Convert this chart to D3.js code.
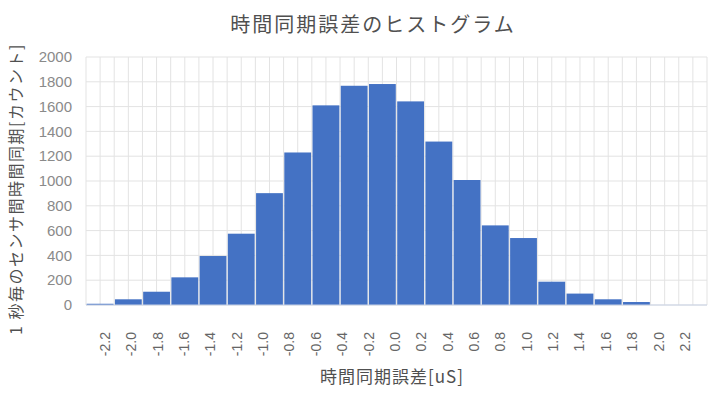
<!DOCTYPE html>
<html>
<head>
<meta charset="utf-8">
<script src="https://cdn.jsdelivr.net/npm/d3@7/dist/d3.min.js"></script>
<style>
  html, body { margin: 0; padding: 0; background: #ffffff; }
  svg { display: block; }
</style>
</head>
<body>
<svg id="chart" width="719" height="397"></svg>
<script>
// ---- data ----
const chartTitle = "時間同期誤差のヒストグラム";
const xTitle = "時間同期誤差[uS]";
const yTitle = "1 秒毎のセンサ間時間同期[カウント]";
const binCounts = [10, 46, 107, 223, 395, 575, 902, 1230, 1610, 1768, 1782, 1642, 1318, 1008, 642, 540, 188, 92, 46, 24, 0, 0];
const tickLabels = ["-2.2", "-2.0", "-1.8", "-1.6", "-1.4", "-1.2", "-1.0", "-0.8", "-0.6", "-0.4", "-0.2",
                    "0.0", "0.2", "0.4", "0.6", "0.8", "1.0", "1.2", "1.4", "1.6", "1.8", "2.0", "2.2"];
const yTicks = [0, 200, 400, 600, 800, 1000, 1200, 1400, 1600, 1800, 2000];

// ---- layout ----
const svg = d3.select("#chart");
const plotLeft = 86, plotRight = 707, plotTop = 57, plotBottom = 305;
const sansCJK = "'Noto Sans CJK JP', 'Noto Sans', sans-serif";
const numFont = "'Liberation Sans', Arial, sans-serif";

const x = d3.scaleBand()
  .domain(d3.range(binCounts.length))
  .range([plotLeft, plotRight])
  .paddingInner(0.05)
  .paddingOuter(0.025);

const xLab = d3.scalePoint()
  .domain(tickLabels)
  .range([105, 685]);

const y = d3.scaleLinear()
  .domain([0, 2000])
  .range([plotBottom, plotTop]);

// gridlines: horizontal
svg.append("g")
  .selectAll("line")
  .data(yTicks)
  .join("line")
  .attr("x1", plotLeft).attr("x2", plotRight)
  .attr("y1", d => y(d)).attr("y2", d => y(d))
  .attr("stroke", "#e3e3e3").attr("stroke-width", 1);

// gridlines: vertical (slot edges and centres)
const step = (plotRight - plotLeft) / binCounts.length;
const vLines = d3.range(binCounts.length * 2 + 1).map(i => plotLeft + i * step / 2);
svg.append("g")
  .selectAll("line")
  .data(vLines)
  .join("line")
  .attr("x1", d => d).attr("x2", d => d)
  .attr("y1", plotTop).attr("y2", plotBottom)
  .attr("stroke", "#e3e3e3").attr("stroke-width", 1);

// bars
svg.append("g")
  .selectAll("rect")
  .data(binCounts.map((v, i) => ({ i, v })).filter(d => d.v > 0))
  .join("rect")
  .attr("x", d => x(d.i))
  .attr("width", x.bandwidth())
  .attr("y", d => y(d.v))
  .attr("height", d => y(0) - y(d.v))
  .attr("fill", "#4472C4");

// baseline
svg.append("line")
  .attr("x1", plotLeft).attr("x2", plotRight)
  .attr("y1", y(0)).attr("y2", y(0))
  .attr("stroke", "#c9d3e6").attr("stroke-width", 1);

// y tick labels
svg.append("g")
  .selectAll("text")
  .data(yTicks)
  .join("text")
  .attr("x", 72)
  .attr("y", d => y(d))
  .attr("dy", "0.35em")
  .attr("text-anchor", "end")
  .attr("font-family", numFont)
  .attr("font-size", 15)
  .attr("fill", "#8a8a8a")
  .text(d => d);

// x tick labels (rotated)
svg.append("g")
  .selectAll("text")
  .data(tickLabels)
  .join("text")
  .attr("transform", d => `translate(${xLab(d)},332) rotate(-90)`)
  .attr("dy", "0.35em")
  .attr("text-anchor", "end")
  .attr("font-family", numFont)
  .attr("font-size", 14)
  .attr("fill", "#666666")
  .text(d => d);

// title
svg.append("text")
  .attr("x", 373)
  .attr("y", 32)
  .attr("text-anchor", "middle")
  .attr("font-family", sansCJK)
  .attr("font-size", 20)
  .attr("letter-spacing", 2)
  .attr("fill", "#505050")
  .text(chartTitle);

// x axis title
svg.append("text")
  .attr("x", 392)
  .attr("y", 383)
  .attr("text-anchor", "middle")
  .attr("font-family", sansCJK)
  .attr("font-size", 17)
  .attr("letter-spacing", 1)
  .attr("fill", "#505050")
  .text(xTitle);

// y axis title
svg.append("text")
  .attr("transform", "translate(16,189) rotate(-90)")
  .attr("dy", "0.35em")
  .attr("text-anchor", "middle")
  .attr("font-family", sansCJK)
  .attr("font-size", 16)
  .attr("letter-spacing", 1.5)
  .attr("fill", "#505050")
  .text(yTitle);
</script>
</body>
</html>
